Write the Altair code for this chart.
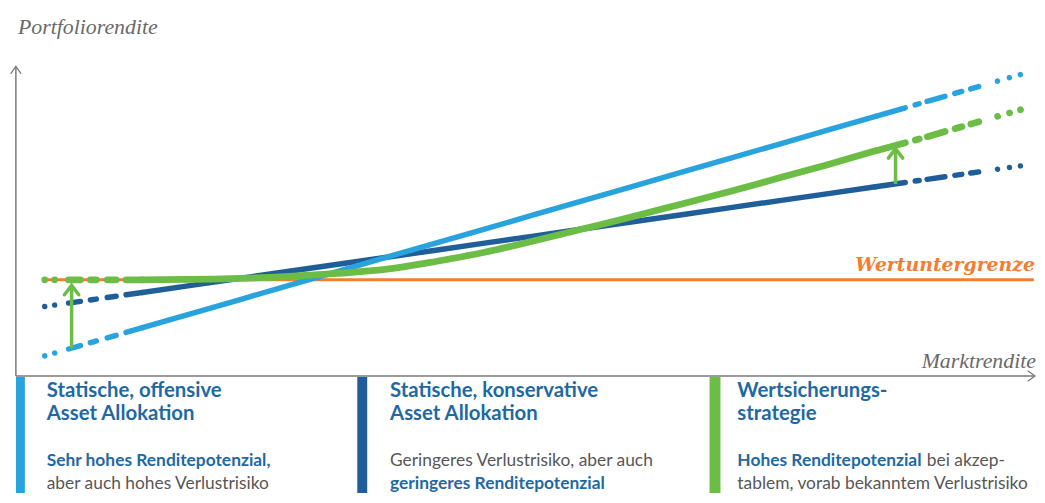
import altair as alt
import pandas as pd

# ---------------- data ----------------
market = [-10, -9, -8, -7, -6, -5, -4, -3, -2, -1, 0, 1, 2, 3, 4, 5, 6, 7, 8, 9, 10]
offensive = [-5.4, -4.4, -3.4, -2.4, -1.4, -0.4, 0.6, 1.6, 2.6, 3.6, 4.6,
             5.6, 6.6, 7.6, 8.6, 9.6, 10.6, 11.6, 12.6, 13.6, 14.6]
conservative = [-1.9, -1.4, -0.9, -0.4, 0.1, 0.6, 1.1, 1.6, 2.1, 2.6, 3.1,
                3.6, 4.1, 4.6, 5.1, 5.6, 6.1, 6.6, 7.1, 7.6, 8.1]
insured = [0.0, 0.0, 0.0, 0.02, 0.1, 0.25, 0.45, 0.75, 1.3, 1.95, 2.75,
           3.6, 4.45, 5.35, 6.25, 7.2, 8.15, 9.15, 10.1, 11.1, 12.1]
series_names = ["offensiv", "konservativ", "Wertsicherung"]

floor_value = 0.0
floor_start = -10.0
floor_end = 10.24

arrow_x = [-9.45, 7.41]
arrow_from = [-4.85, 6.8]
arrow_to = [-0.4, 9.3]

axis_x0 = -10.59
axis_y0 = -6.83
axis_ytop = 15.14
axis_xright = 10.264

y_title = "Portfoliorendite"
x_title = "Marktrendite"
floor_label = "Wertuntergrenze"
panel_titles = [["Statische, offensive", "Asset Allokation"],
                ["Statische, konservative", "Asset Allokation"],
                ["Wertsicherungs-", "strategie"]]

# ---------------- styling ----------------
LIGHT = "#29A3DD"
DARK = "#1F5E98"
GREEN = "#6CBD45"
ORANGE = "#F47D30"
AXIS = "#7A7A7A"
TITLE = "#1F69A3"
GRAY = "#575757"
LABEL_GRAY = "#6A6A6A"

W, H = 1037, 487
xs = alt.Scale(domain=[-10.7513, 10.3046], nice=False, zero=False)
ys = alt.Scale(domain=[-15.141, 19.155], nice=False, zero=False)

rows = []
for name, vals in zip(series_names, [offensive, conservative, insured]):
    for m, v in zip(market, vals):
        rows.append({"series": name, "market": m, "ret": v})
df = pd.DataFrame(rows)

# dash patterns (in px along the x direction), stretched by path slope
LEFT_BASE = [0.01, 10, 0.01, 14, 12, 10, 6, 11, 9, 10, 600, 1]
RIGHT_BASE = [30, 10, 4, 8, 18, 10, 7, 9, 8, 19, 0.01, 12, 0.01, 11, 0.01, 600]


def stretch(pattern, factor):
    return [round(v * factor, 2) if v > 0.05 else v for v in pattern]


X = alt.X("market:Q", scale=xs, axis=None)
Y = alt.Y("ret:Q", scale=ys, axis=None)


def curve(name, color, width, interp, lf, rf):
    base = alt.Chart(df).transform_filter(alt.datum.series == name)
    left = base.transform_filter("datum.market <= -8").mark_line(
        color=color, strokeWidth=width, strokeCap="round",
        strokeDash=stretch(LEFT_BASE, lf), interpolate=interp).encode(x=X, y=Y)
    mid = base.transform_filter("datum.market >= -8 && datum.market <= 7").mark_line(
        color=color, strokeWidth=width, strokeCap="round", interpolate=interp).encode(x=X, y=Y)
    right = base.transform_filter("datum.market >= 7").mark_line(
        color=color, strokeWidth=width, strokeCap="round",
        strokeDash=stretch(RIGHT_BASE, rf), interpolate=interp).encode(x=X, y=Y)
    return [left, mid, right]


one = pd.DataFrame({"k": [0]})


def txt(text, x, y, size, color, font="Lato", weight="normal", style="normal", align="left"):
    return alt.Chart(one).mark_text(
        text=text, font=font, fontSize=size, fontWeight=weight, fontStyle=style,
        color=color, align=align, baseline="alphabetic").encode(
        x=alt.value(x), y=alt.value(y))


layers = []

# floor line
floor_df = pd.DataFrame({"x0": [floor_start], "x1": [floor_end], "y": [floor_value]})
layers.append(alt.Chart(floor_df).mark_rule(color=ORANGE, strokeWidth=3).encode(
    x=alt.X("x0:Q", scale=xs, axis=None), x2="x1:Q", y=alt.Y("y:Q", scale=ys, axis=None)))

# strategy curves
layers += curve("konservativ", DARK, 5.5, "linear", 1.01, 1.01)
layers += curve("offensiv", LIGHT, 5.5, "linear", 1.04, 1.04)
layers += curve("Wertsicherung", GREEN, 6.8, "monotone", 1.0, 1.04)

# axes
ax_df = pd.DataFrame({"x0": [axis_x0], "x1": [axis_xright], "y0": [axis_y0], "y1": [axis_ytop]})
layers.append(alt.Chart(ax_df).mark_rule(color=AXIS, strokeWidth=1.5).encode(
    x=alt.X("x0:Q", scale=xs, axis=None), y=alt.Y("y0:Q", scale=ys, axis=None), y2="y1:Q"))
layers.append(alt.Chart(ax_df).mark_rule(color=AXIS, strokeWidth=1.5).encode(
    x=alt.X("x0:Q", scale=xs, axis=None), x2="x1:Q", y=alt.Y("y0:Q", scale=ys, axis=None)))
layers.append(alt.Chart(ax_df).mark_point(
    shape="M-1,1.4L0,0L1,1.4", filled=False, color=AXIS, strokeWidth=1.3, size=100,
    opacity=1, strokeCap="round").encode(
    x=alt.X("x0:Q", scale=xs, axis=None), y=alt.Y("y1:Q", scale=ys, axis=None)))
layers.append(alt.Chart(ax_df).mark_point(
    shape="M-1.4,-1L0,0L-1.4,1", filled=False, color=AXIS, strokeWidth=1.3, size=100,
    opacity=1, strokeCap="round").encode(
    x=alt.X("x1:Q", scale=xs, axis=None), y=alt.Y("y0:Q", scale=ys, axis=None)))

# green arrows
arr_df = pd.DataFrame({"x": arrow_x, "y0": arrow_from, "y1": arrow_to})
layers.append(alt.Chart(arr_df).mark_rule(color=GREEN, strokeWidth=3.5).encode(
    x=alt.X("x:Q", scale=xs, axis=None), y=alt.Y("y0:Q", scale=ys, axis=None), y2="y1:Q"))
layers.append(alt.Chart(arr_df).mark_point(
    shape="M-1,1.3L0,0L1,1.3", filled=False, color=GREEN, strokeWidth=3.5, size=210,
    opacity=1, strokeCap="round").encode(
    x=alt.X("x:Q", scale=xs, axis=None), y=alt.Y("y1:Q", scale=ys, axis=None)))

# axis titles and floor label
layers.append(txt(y_title, 10, 24, 22, LABEL_GRAY, font="Liberation Serif", style="italic"))
layers.append(txt(x_title, 1036, 361, 22, LABEL_GRAY, font="Liberation Serif", style="italic", align="right"))
layers.append(txt(floor_label, 1035, 263, 19, ORANGE, font="DejaVu Serif", weight="bold",
                  style="italic", align="right"))

# bottom panels: colour bars
bar_specs = [(12.5, LIGHT, 9), (357, DARK, 10), (712.5, GREEN, 11)]
for bx, col, bw in bar_specs:
    layers.append(alt.Chart(one).mark_rule(color=col, strokeWidth=bw).encode(
        x=alt.value(bx), y=alt.value(370), y2=alt.value(487)))

panel_x = [39, 385, 735]
for px, lines in zip(panel_x, panel_titles):
    layers.append(txt(lines[0], px, 390, 20.5, TITLE, weight="bold"))
    layers.append(txt(lines[1], px, 413, 20.5, TITLE, weight="bold"))

# panel descriptions
S = 17.5
layers.append(txt("Sehr hohes Renditepotenzial,", 39, 460, S, TITLE, weight="bold"))
layers.append(txt("aber auch hohes Verlustrisiko", 39, 483, S, GRAY))
layers.append(txt("Geringeres Verlustrisiko, aber auch", 385, 460, S, GRAY))
layers.append(txt("geringeres Renditepotenzial", 385, 483, S, TITLE, weight="bold"))
layers.append(txt("Hohes Renditepotenzial", 735, 460, S, TITLE, weight="bold"))
layers.append(txt("bei akzep-", 926, 460, S, GRAY))
layers.append(txt("tablem, vorab bekanntem Verlustrisiko", 735, 483, S, GRAY))

chart = alt.layer(*layers).properties(
    width=W, height=H,
    autosize=alt.AutoSizeParams(type="none"),
    padding=0,
).configure_view(stroke=None)

chart.save("out.html", embed_options={"renderer": "svg", "actions": False})
